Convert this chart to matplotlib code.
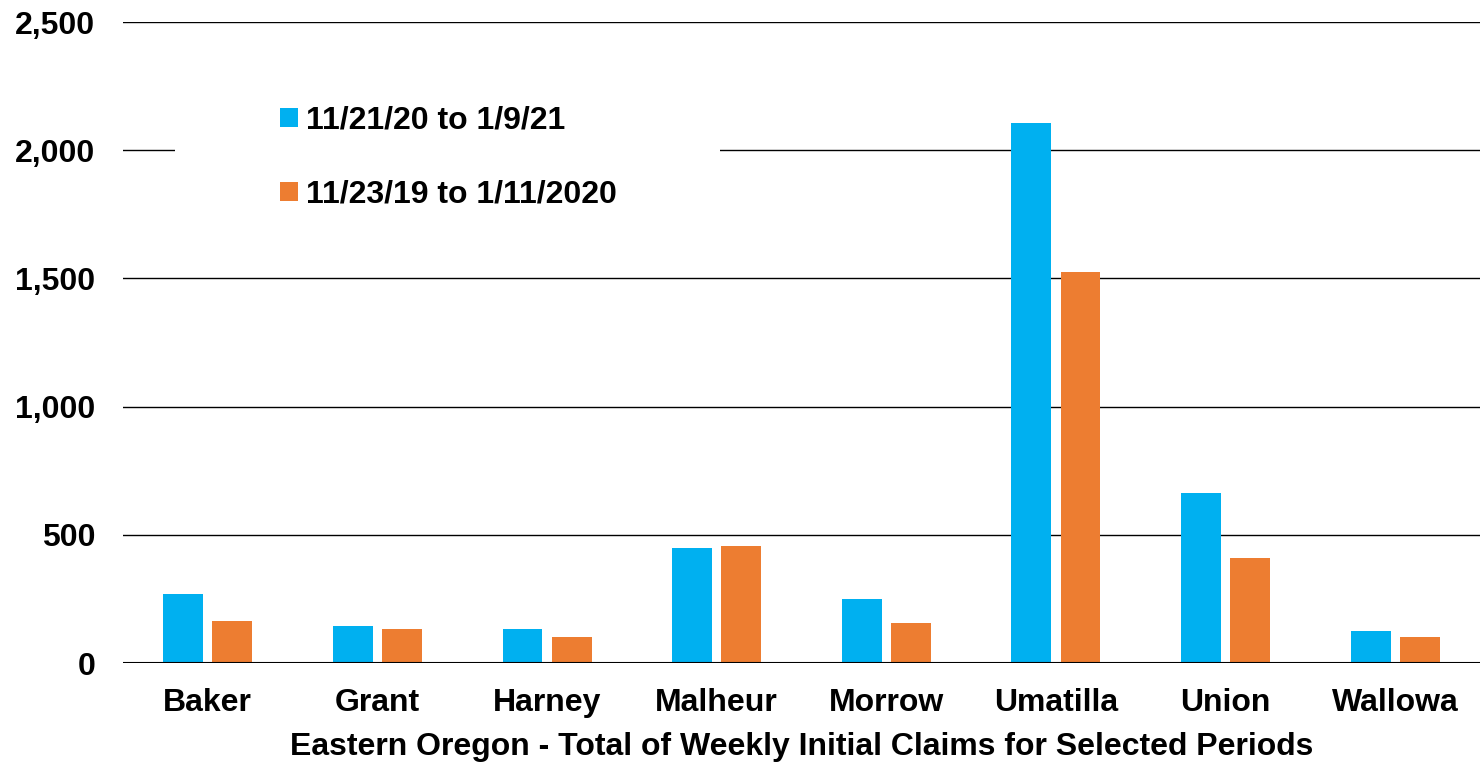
import matplotlib.pyplot as plt
from matplotlib.patches import Rectangle
import numpy as np

plt.rcParams['font.family'] = ['Liberation Sans', 'DejaVu Sans']
plt.rcParams['font.weight'] = 'bold'

counties = ['Baker', 'Grant', 'Harney', 'Malheur', 'Morrow', 'Umatilla', 'Union', 'Wallowa']
claims_2020 = [269, 145, 133, 449, 250, 2105, 663, 125]
claims_2019 = [165, 134, 100, 456, 157, 1525, 410, 101]

fig = plt.figure(figsize=(14.8, 7.63), dpi=100)
ax = fig.add_axes([0.0831, 0.131, 0.9169, 0.840])

x = np.arange(len(counties))
w = 0.235
ax.bar(x - 0.145, claims_2020, w, color='#00B0F0', label='11/21/20 to 1/9/21', zorder=3)
ax.bar(x + 0.145, claims_2019, w, color='#ED7D31', label='11/23/19 to 1/11/2020', zorder=3)

ax.set_xlim(-0.5, len(counties) - 0.5)
ax.set_ylim(0, 2500)
ax.set_yticks(range(0, 2501, 500))
ax.set_yticklabels(['{:,}'.format(v) for v in range(0, 2501, 500)])
ax.yaxis.grid(True, color='black', linewidth=1.0, zorder=0)
ax.set_axisbelow(True)
for s in ax.spines.values():
    s.set_visible(False)
ax.axhline(0, color='black', linewidth=1.5, zorder=4)

ax.set_xticks(x)
ax.set_xticklabels(counties)
ax.tick_params(axis='both', length=0, labelsize=23)
ax.tick_params(axis='x', pad=18)
ax.tick_params(axis='y', pad=20)
ax.set_xlabel('Eastern Oregon - Total of Weekly Initial Claims for Selected Periods',
              fontsize=23, fontweight='bold', labelpad=10)

# white legend background hiding the gridline behind it
ax.add_patch(Rectangle((0.0383, 0.70), 0.402, 0.21, transform=ax.transAxes,
                       facecolor='white', edgecolor='none', zorder=2))

leg = ax.legend(loc='upper left', bbox_to_anchor=(0.1157, 0.870), fontsize=23,
                frameon=False, handlelength=0.55, handleheight=0.55, handletextpad=0.25,
                labelspacing=1.39, borderpad=0, borderaxespad=0)
leg.set_zorder(5)

fig.savefig('out.png', dpi=100)
